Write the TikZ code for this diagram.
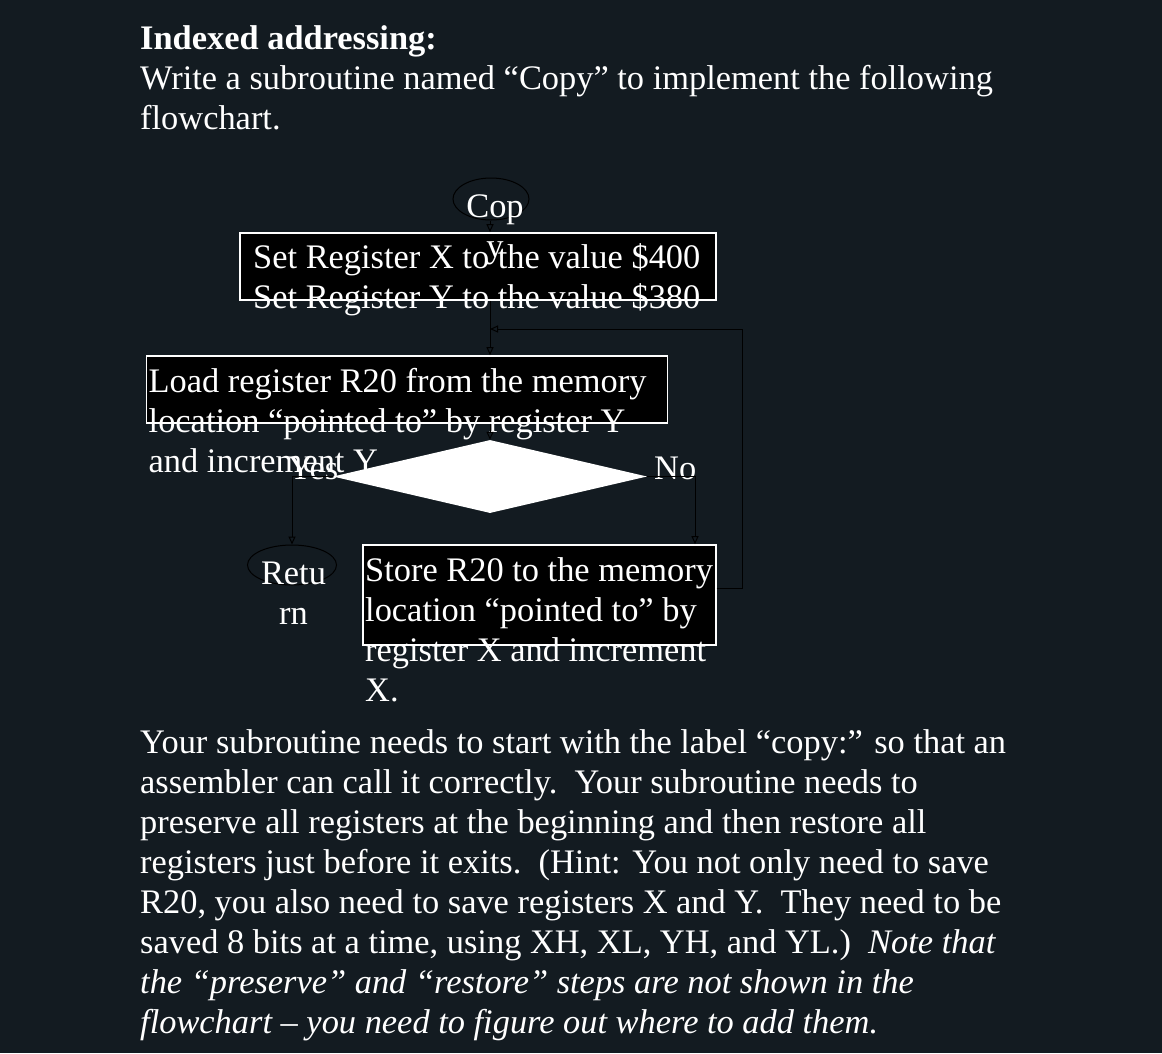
\documentclass[tikz,border=0pt]{standalone}
\usepackage{fontspec}
\setmainfont{Liberation Serif}
\usetikzlibrary{shapes.geometric,arrows.meta}
\definecolor{nen}{RGB}{19,27,33}
\tikzset{
	chu/.style={text=white,inner sep=0pt,anchor=north west,align=left,font=\fontsize{34.4}{40}\selectfont},
	hop/.style={draw=white,line width=1.6pt,fill=black,inner sep=0pt},
	elip/.style={ellipse,draw=black,line width=1pt,inner sep=0pt},
	thoi/.style={diamond,fill=white,inner sep=0pt},
	mui/.style={line width=1pt,-{Triangle[open,length=8pt,width=7pt]}}
}
\begin{document}
\begin{tikzpicture}[x=1pt,y=-1pt]
	\fill[nen] (0,0) rectangle (1162,1053);
	\coordinate (truc) at (490,0); % truc doc chinh
	\coordinate (cotNo) at (695,0);
	\coordinate (vong) at (742,329);
	% cac khoi
	\node[elip,minimum width=76pt,minimum height=42pt] (copy) at (491,199) {};
	\node[hop,minimum width=476pt,minimum height=67pt] (datXY) at (478,266.5) {};
	\node[hop,minimum width=521pt,minimum height=67pt] (napR) at (407,389.5) {};
	\node[thoi,minimum width=314pt,minimum height=73pt] (kt) at (490,476.5) {};
	\node[elip,minimum width=89pt,minimum height=40pt] (tra) at (292,565) {};
	\node[hop,minimum width=353pt,minimum height=100pt] (luuR) at (539.3,595) {};
	% chu
	\node[chu,font=\fontsize{34.4}{40}\selectfont\bfseries] (tieude) at (140,21) {\strut Indexed addressing:};
	\node[chu] (deBai) at (140,61) {\strut Write a subroutine named “Copy” to implement the following\\flowchart.};
	\node[chu,anchor=north,align=center] (copyTxt) at (495,189) {\strut Cop\\y};
	\node[chu] (datTxt) at (253,240.5) {\strut Set Register X to the value \$400\\Set Register Y to the value \$380};
	\node[chu] (napTxt) at (148.5,364) {\strut Load register R20 from the memory\\location “pointed to” by register Y\\and increment Y.};
	\node[chu,anchor=base west] (yes) at (288,479) {Yes};
	\node[chu,anchor=base west] (no) at (654,479) {No};
	\node[chu,anchor=north,align=center] (traTxt) at (293.5,556.5) {\strut Retu\\rn};
	\node[chu] (luuTxt) at (365,553) {\strut Store R20 to the memory\\location “pointed to” by\\register X and increment\\X.};
	\node[chu] (loiDan) at (140,725) {\strut Your subroutine needs to start with the label “copy:” so that an\\
		assembler can call it correctly.\ \ Your subroutine needs to\\
		preserve all registers at the beginning and then restore all\\
		registers just before it exits.\ \ (Hint: You not only need to save\\
		R20, you also need to save registers X and Y.\ \ They need to be\\
		saved 8 bits at a time, using XH, XL, YH, and YL.)\ \ \textit{Note that}\\
		\textit{the “preserve” and “restore” steps are not shown in the}\\
		\textit{flowchart – you need to figure out where to add them.}};
	% mui ten
	\draw[mui] (copy.south -| truc) -- (datXY.north -| truc);
	\draw[mui] (datXY.south -| truc) -- (napR.north -| truc);
	\draw[mui] (napR.south -| kt.north) -- (kt.north);
	\draw[mui] (kt.west) -| (tra.north);
	\draw[mui] (kt.east) -| (luuR.north -| cotNo);
	\draw[mui] ([yshift=7pt]luuR.east) -| (vong) -- (vong -| truc);
\end{tikzpicture}
\end{document}
